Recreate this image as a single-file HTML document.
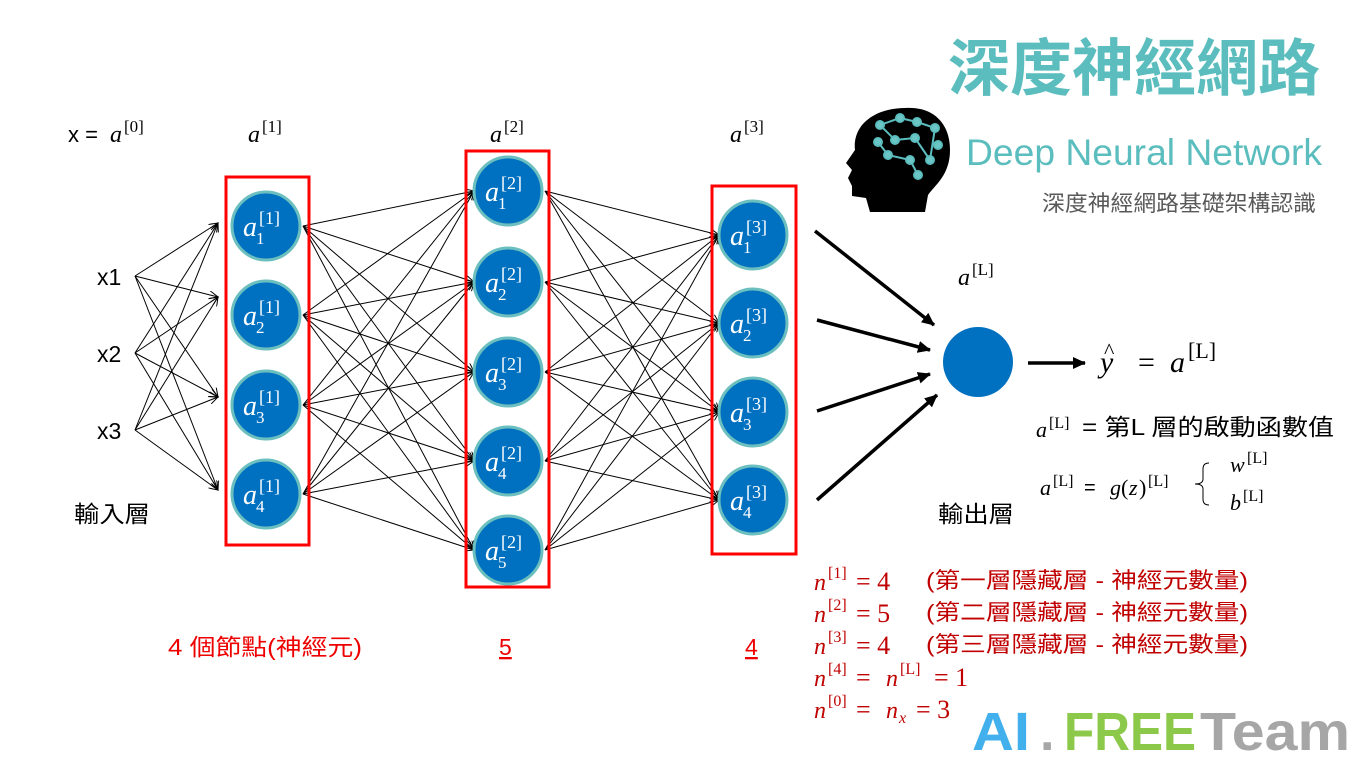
<!DOCTYPE html>
<html><head><meta charset="utf-8"><style>
html,body{margin:0;padding:0;background:#fff;}
svg{display:block}
.s{font-family:"Liberation Sans","Noto Sans CJK TC",sans-serif;}
.m{font-family:"Liberation Serif","DejaVu Serif",serif;font-style:italic;}
.mr{font-family:"Liberation Serif","DejaVu Serif",serif;}
</style></head><body>
<svg id="g" width="1362" height="768" viewBox="0 0 1362 768" xmlns="http://www.w3.org/2000/svg">
<defs>
<marker id="ah" markerWidth="10" markerHeight="8" refX="9" refY="4" orient="auto" markerUnits="userSpaceOnUse"><path d="M0,0 L9,4 L0,8" fill="none" stroke="#000" stroke-width="1"/></marker>
<marker id="ab" markerWidth="14" markerHeight="12" refX="12" refY="6" orient="auto" markerUnits="userSpaceOnUse"><path d="M0,0 L13,6 L0,12 z" fill="#000"/></marker>
</defs>
<g id="lines" stroke="#000" stroke-width="1" fill="none"></g>
<rect x="226" y="177" width="83" height="368" fill="none" stroke="#f00" stroke-width="3"/>
<rect x="466" y="151" width="83" height="436" fill="none" stroke="#f00" stroke-width="3"/>
<rect x="712" y="186" width="84" height="368" fill="none" stroke="#f00" stroke-width="3"/>
<g id="nodes"></g>
<circle cx="978" cy="362" r="35" fill="#0070c0"/>
<g stroke="#000" stroke-width="3.5">
<line x1="815" y1="231" x2="934" y2="325" marker-end="url(#ab)"/>
<line x1="817" y1="320" x2="930" y2="350" marker-end="url(#ab)"/>
<line x1="817" y1="411" x2="930" y2="374" marker-end="url(#ab)"/>
<line x1="817" y1="500" x2="937" y2="395" marker-end="url(#ab)"/>
<line x1="1028" y1="363" x2="1085" y2="363" marker-end="url(#ab)"/>
</g>
<text class="s" x="68" y="142" font-size="22">x =</text><text class="m" x="110" y="142" font-size="24">a</text><text class="mr" x="124" y="132" font-size="17">[0]</text>
<text class="m" x="248" y="142" font-size="24">a</text><text class="mr" x="262" y="132" font-size="17">[1]</text>
<text class="m" x="490" y="142" font-size="24">a</text><text class="mr" x="504" y="132" font-size="17">[2]</text>
<text class="m" x="730" y="142" font-size="24">a</text><text class="mr" x="744" y="132" font-size="17">[3]</text>
<text class="m" x="958" y="285" font-size="24">a</text><text class="mr" x="972" y="275" font-size="17">[L]</text>
<text class="s" x="97" y="285" font-size="23">x1</text>
<text class="s" x="97" y="362" font-size="23">x2</text>
<text class="s" x="97" y="439" font-size="23">x3</text>
<text class="s" x="74" y="522" font-size="23" textLength="76" lengthAdjust="spacingAndGlyphs">輸入層</text>
<text class="s" x="938" y="522" font-size="23" textLength="76" lengthAdjust="spacingAndGlyphs">輸出層</text>
<text class="s" x="168" y="655" font-size="23" fill="#e00" textLength="194" lengthAdjust="spacingAndGlyphs">4 個節點(神經元)</text>
<text class="s" x="499" y="655" font-size="23" fill="#e00" text-decoration="underline">5</text>
<text class="s" x="745" y="655" font-size="23" fill="#e00" text-decoration="underline">4</text>
<text class="m" x="1100" y="372" font-size="30">y</text><text class="mr" x="1104" y="358" font-size="22">^</text>
<text class="mr" x="1138" y="372" font-size="30">=</text><text class="m" x="1170" y="372" font-size="30">a</text><text class="mr" x="1188" y="358" font-size="22">[L]</text>
<text class="m" x="1036" y="437" font-size="22">a</text><text class="mr" x="1049" y="428" font-size="16">[L]</text><text class="s" x="1082" y="435" font-size="23" textLength="252" lengthAdjust="spacingAndGlyphs">= 第L 層的啟動函數值</text>
<text class="m" x="1040" y="495" font-size="22">a</text><text class="mr" x="1053" y="486" font-size="16">[L]</text><text class="s" x="1084" y="494" font-size="20">=</text><text class="m" x="1110" y="495" font-size="22">g</text><text class="mr" x="1121" y="495" font-size="22">(</text><text class="m" x="1129" y="495" font-size="22">z</text><text class="mr" x="1139" y="495" font-size="22">)</text><text class="mr" x="1148" y="486" font-size="16">[L]</text>
<path d="M1209,463 q-6,0 -6,6 v10 q0,5 -8,5 q8,0 8,5 v10 q0,6 6,6" fill="none" stroke="#000" stroke-width="1"/>
<text class="m" x="1230" y="472" font-size="22">w</text><text class="mr" x="1247" y="463" font-size="16">[L]</text>
<text class="m" x="1230" y="510" font-size="22">b</text><text class="mr" x="1243" y="501" font-size="16">[L]</text>
<g fill="#c00000">
<text class="m" x="814" y="590" font-size="24">n</text><text class="mr" x="828" y="578" font-size="16">[1]</text><text class="mr" x="856" y="590" font-size="26">= 4</text><text class="s" x="926" y="588" font-size="22" textLength="322" lengthAdjust="spacingAndGlyphs">(第一層隱藏層 - 神經元數量)</text>
<text class="m" x="814" y="622" font-size="24">n</text><text class="mr" x="828" y="610" font-size="16">[2]</text><text class="mr" x="856" y="622" font-size="26">= 5</text><text class="s" x="926" y="620" font-size="22" textLength="322" lengthAdjust="spacingAndGlyphs">(第二層隱藏層 - 神經元數量)</text>
<text class="m" x="814" y="654" font-size="24">n</text><text class="mr" x="828" y="642" font-size="16">[3]</text><text class="mr" x="856" y="654" font-size="26">= 4</text><text class="s" x="926" y="652" font-size="22" textLength="322" lengthAdjust="spacingAndGlyphs">(第三層隱藏層 - 神經元數量)</text>
<text class="m" x="814" y="686" font-size="24">n</text><text class="mr" x="828" y="674" font-size="16">[4]</text><text class="mr" x="856" y="686" font-size="26">=</text><text class="m" x="886" y="686" font-size="24">n</text><text class="mr" x="900" y="674" font-size="16">[L]</text><text class="mr" x="934" y="686" font-size="26">= 1</text>
<text class="m" x="814" y="718" font-size="24">n</text><text class="mr" x="828" y="706" font-size="16">[0]</text><text class="mr" x="856" y="718" font-size="26">=</text><text class="m" x="886" y="718" font-size="24">n</text><text class="m" x="899" y="723" font-size="16">x</text><text class="mr" x="916" y="718" font-size="26">= 3</text>
</g>
<text class="s" x="972" y="750" font-size="54" font-weight="bold" fill="#41b0ec" textLength="58" lengthAdjust="spacingAndGlyphs">AI</text>
<text class="s" x="1040" y="750" font-size="52" font-weight="bold" fill="#a6a6a6">.</text>
<text class="s" x="1064" y="750" font-size="54" font-weight="bold" fill="#8cc94a" textLength="132" lengthAdjust="spacingAndGlyphs">FREE</text>
<text class="s" x="1200" y="750" font-size="54" font-weight="bold" fill="#a6a6a6" textLength="150" lengthAdjust="spacingAndGlyphs">Team</text>
<text class="s" x="948" y="90" font-size="62" font-weight="bold" fill="#5bbdbd" textLength="372" lengthAdjust="spacingAndGlyphs">深度神經網路</text>
<text class="s" x="966" y="165" font-size="37" fill="#5bbdbd" textLength="356" lengthAdjust="spacingAndGlyphs">Deep Neural Network</text>
<text class="s" x="1042" y="211" font-size="22" fill="#595959" textLength="274" lengthAdjust="spacingAndGlyphs">深度神經網路基礎架構認識</text>
<path d="M905,108 C935,106 950,125 950,150 C950,175 935,185 928,195 L925,212 L870,212 L866,198 L852,196 L852,186 L848,178 L852,170 L846,163 L855,150 C852,125 875,108 905,108 z" fill="#000"/>
<g stroke="#5bbdbd" stroke-width="2" fill="#6cc6c6">
<line x1="880" y1="125" x2="900" y2="118"/><line x1="900" y1="118" x2="917" y2="122"/><line x1="917" y1="122" x2="935" y2="128"/>
<line x1="880" y1="125" x2="895" y2="140"/><line x1="895" y1="140" x2="915" y2="138"/><line x1="915" y1="138" x2="930" y2="160"/>
<line x1="878" y1="142" x2="888" y2="155"/><line x1="888" y1="155" x2="910" y2="160"/><line x1="910" y1="160" x2="918" y2="175"/><line x1="935" y1="128" x2="930" y2="160"/>
<circle cx="880" cy="125" r="4"/><circle cx="900" cy="118" r="4"/><circle cx="917" cy="122" r="4"/><circle cx="935" cy="128" r="4"/><circle cx="895" cy="140" r="4"/><circle cx="915" cy="138" r="4"/><circle cx="930" cy="160" r="4"/><circle cx="878" cy="142" r="4"/><circle cx="888" cy="155" r="4"/><circle cx="910" cy="160" r="4"/><circle cx="918" cy="175" r="4"/><circle cx="938" cy="145" r="4"/>
</g>
</svg>
<script>
var NS="http://www.w3.org/2000/svg";
var L1=[226,315,405,494],L2=[191,282,372,461,550],L3=[235,323,412,500];
var IN=[276,353,430],T1=[223,297,397,490];
var lg=document.getElementById('lines'),ng=document.getElementById('nodes');
function ln(x1,y1,x2,y2){var l=document.createElementNS(NS,'line');l.setAttribute('x1',x1);l.setAttribute('y1',y1);l.setAttribute('x2',x2);l.setAttribute('y2',y2);l.setAttribute('marker-end','url(#ah)');lg.appendChild(l);}
IN.forEach(function(a){T1.forEach(function(b){ln(135,a,218,b);});});
L1.forEach(function(a){L2.forEach(function(b){ln(303,a,474,b);});});
L2.forEach(function(a){L3.forEach(function(b){ln(545,a,719,b);});});
function node(x,y,sup,sub){
 var c=document.createElementNS(NS,'circle');c.setAttribute('cx',x);c.setAttribute('cy',y);c.setAttribute('r',34);c.setAttribute('fill','#0070c0');c.setAttribute('stroke','#6cbfbf');c.setAttribute('stroke-width','3');ng.appendChild(c);
 function t(tx,ty,s,fs,cls){var e=document.createElementNS(NS,'text');e.setAttribute('x',tx);e.setAttribute('y',ty);e.setAttribute('font-size',fs);e.setAttribute('fill','#fff');e.setAttribute('class',cls);e.textContent=s;ng.appendChild(e);}
 t(x-23,y+10,'a',28,'m');t(x-7,y-2,'['+sup+']',18,'mr');t(x-10,y+18,sub,17,'mr');
}
L1.forEach(function(y,i){node(266,y,1,i+1);});
L2.forEach(function(y,i){node(508,y,2,i+1);});
L3.forEach(function(y,i){node(753,y,3,i+1);});
</script>
</body></html>
